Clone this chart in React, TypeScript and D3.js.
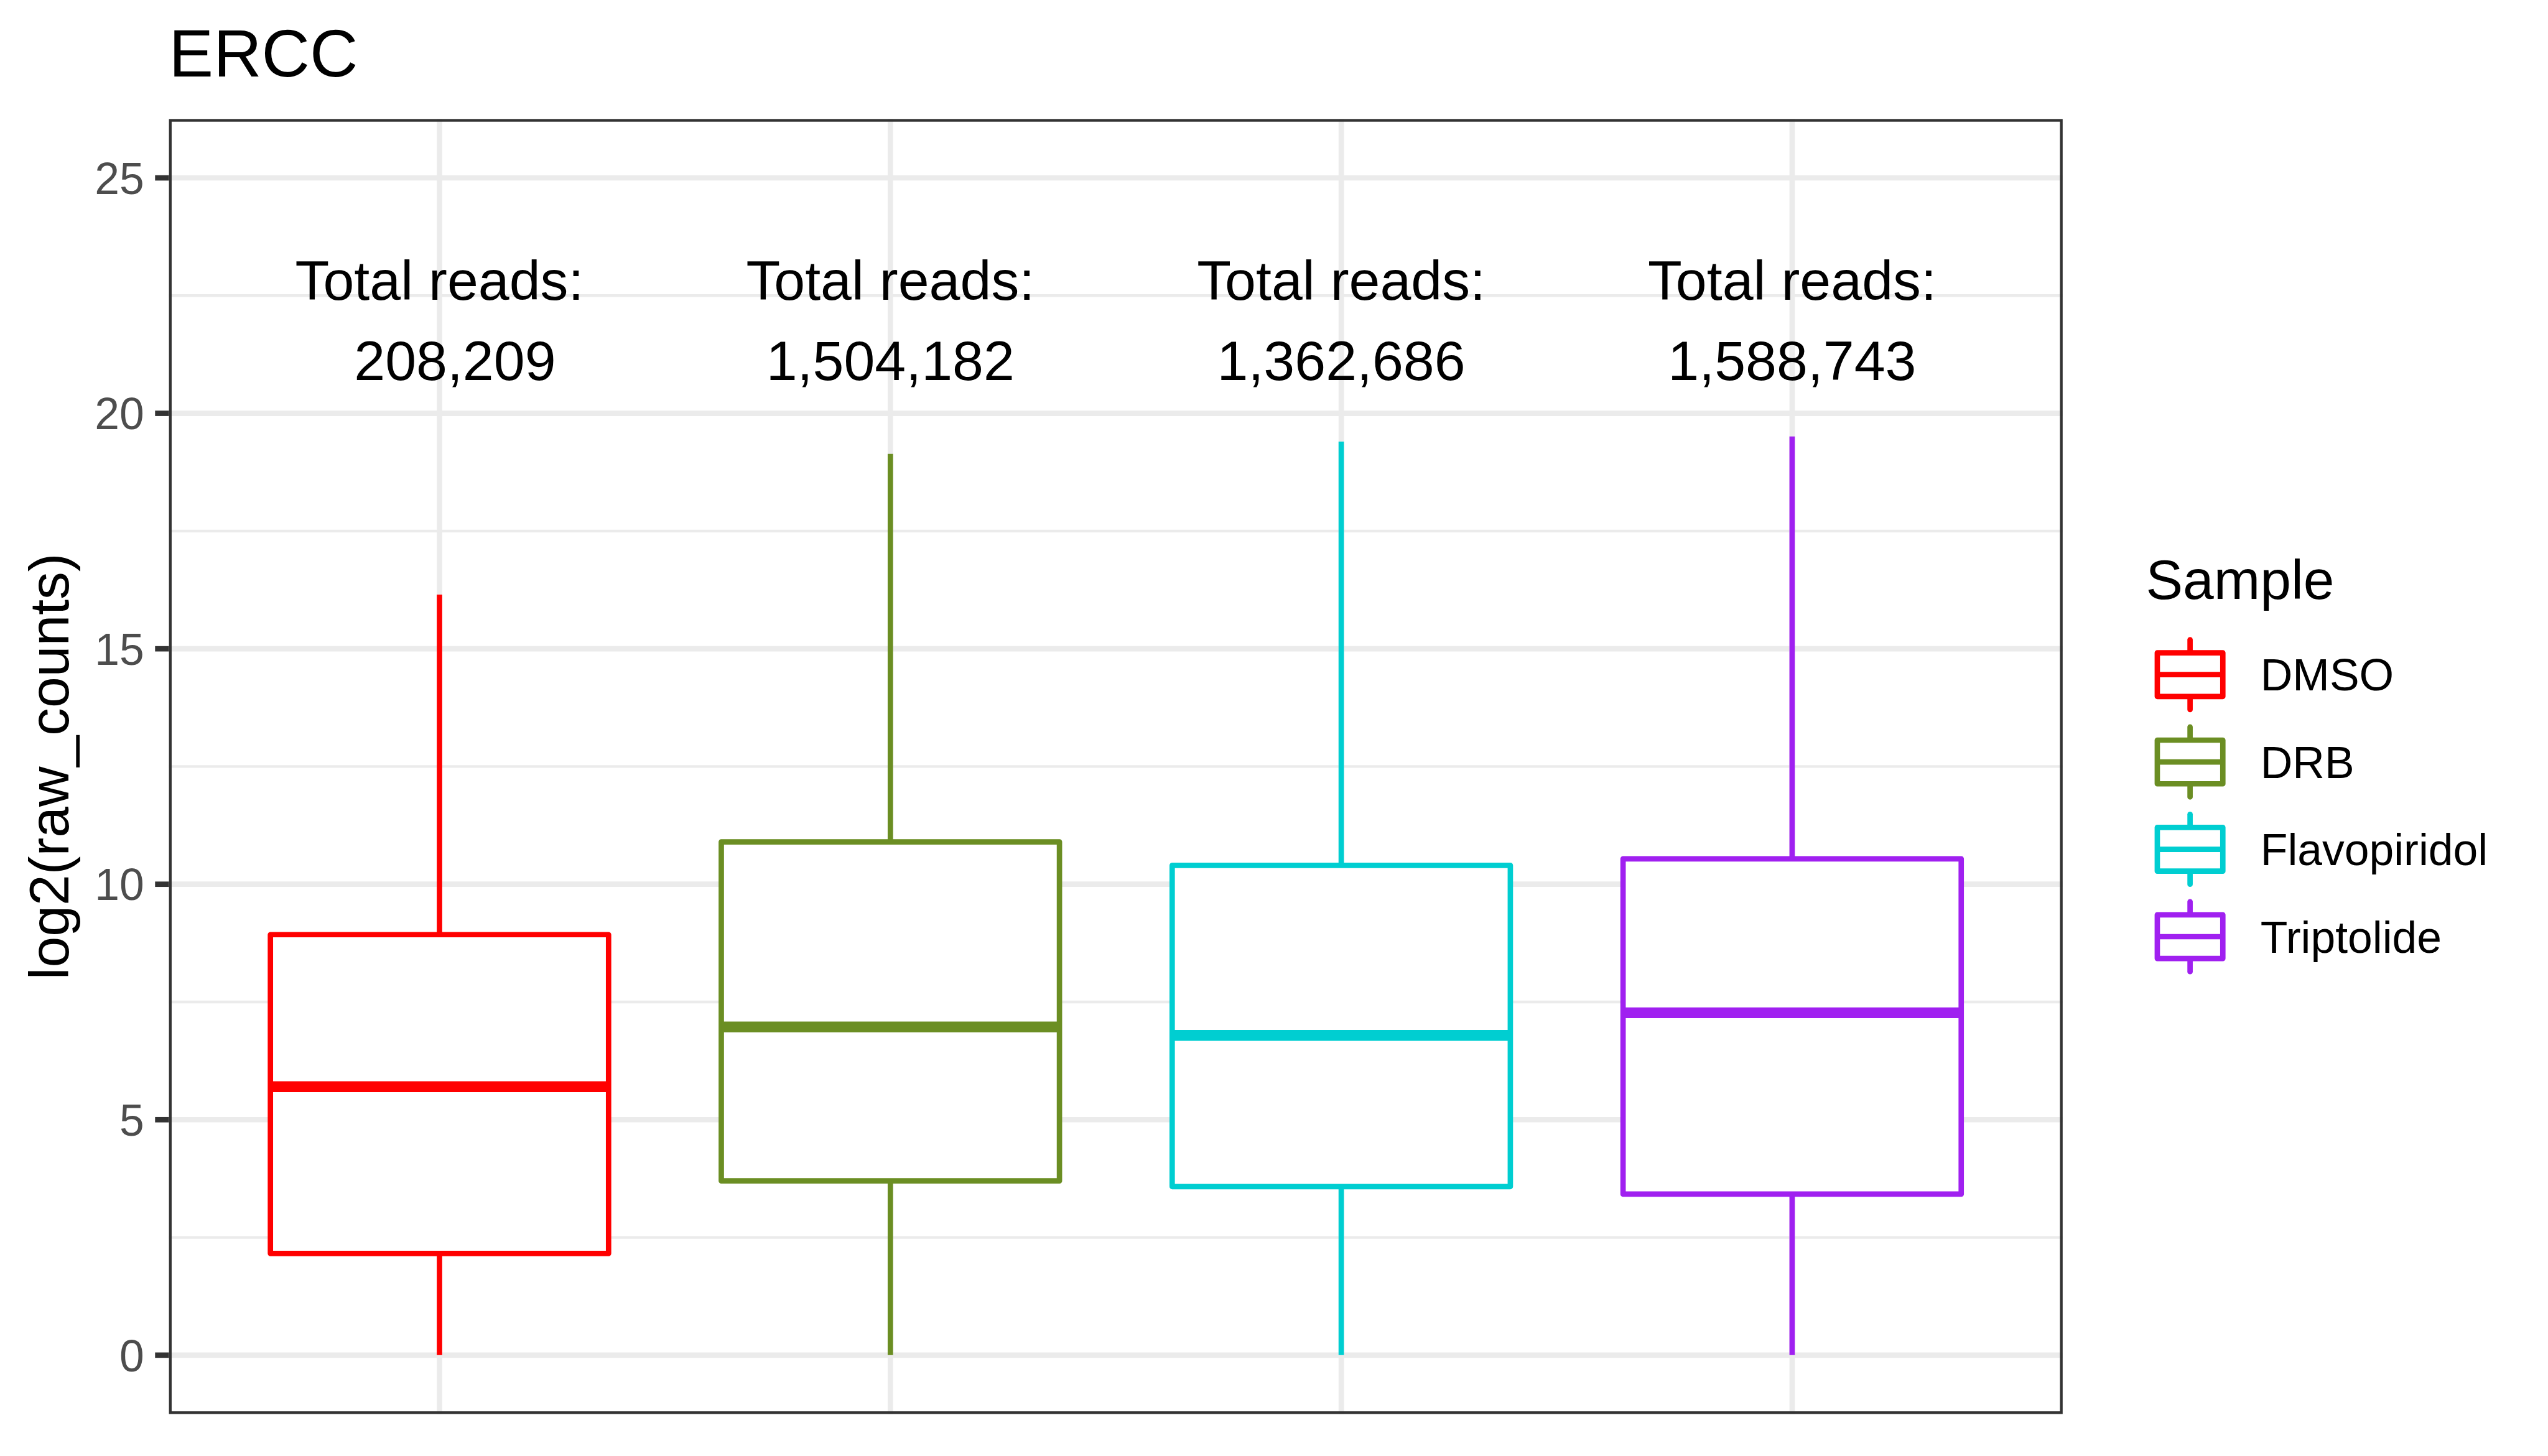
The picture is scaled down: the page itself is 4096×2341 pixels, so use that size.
import React from 'react';
import { scaleLinear, scalePoint, format, max } from 'd3';

// boxplot summary per sample (log2 raw counts)
const samples = ['DMSO', 'DRB', 'Flavopiridol', 'Triptolide'];
const sampleColors = ['#FF0000', '#6B8E23', '#00CED1', '#A020F0'];
const lowerWhisker = [0, 0, 0, 0];
const lowerHinge = [2.16, 3.7, 3.58, 3.42];
const medians = [5.7, 6.97, 6.79, 7.27];
const upperHinge = [8.93, 10.9, 10.4, 10.54];
const upperWhisker = [16.15, 19.14, 19.4, 19.51];
const totalReads = [208209, 1504182, 1362686, 1588743];
const yTicks = [0, 5, 10, 15, 20, 25];
const yMinorTicks = [2.5, 7.5, 12.5, 17.5, 22.5];
const readsLabelY = 21.56;

// reference pixel layout (scaled down by the viewBox)
const W = 4200;
const H = 2400;
const panel = { left: 278.5, right: 3400, top: 196, bottom: 2331 };
const lw = 8.9; // ggplot 0.5 mm line
const font = '"Liberation Sans", Arial, Helvetica, sans-serif';

export default function App() {
    const xScale = scalePoint<string>().domain(samples).range([panel.left, panel.right]).padding(0.6);
    const yScale = scaleLinear().domain([-1.25, 26.25]).range([panel.bottom, panel.top]);
    const boxW = xScale.step() * 0.75;
    const fmt = format(',');
    const readsText = totalReads.map((v) => fmt(v));
    // R's format() pads to a common width with leading spaces
    const padTo = max(readsText, (d) => d.length) || 0;
    const readsPadded = readsText.map((d) => d.padStart(padTo, ' '));
    const panelMid = (panel.top + panel.bottom) / 2;

    const keySize = 144;
    const keyLeft = 3538;
    const keyTop = 1040;

    return (
        <svg
            width={4096}
            height={2341}
            viewBox={`0 0 ${W} ${H}`}
            style={{ position: 'fixed', left: 0, top: 0, background: '#fff' }}
            fontFamily={font}
        >
            <rect x={0} y={0} width={W} height={H} fill="#fff" />

            {/* grid */}
            <g className="grid">
                {yMinorTicks.map((t) => (
                    <line key={'m' + t} x1={panel.left} x2={panel.right} y1={yScale(t)} y2={yScale(t)} stroke="#EBEBEB" strokeWidth={lw / 2} />
                ))}
                {yTicks.map((t) => (
                    <line key={'M' + t} x1={panel.left} x2={panel.right} y1={yScale(t)} y2={yScale(t)} stroke="#EBEBEB" strokeWidth={lw} />
                ))}
                {samples.map((s) => (
                    <line key={'v' + s} x1={xScale(s)} x2={xScale(s)} y1={panel.top} y2={panel.bottom} stroke="#EBEBEB" strokeWidth={lw} />
                ))}
            </g>

            {/* boxes */}
            <g className="boxes">
                {samples.map((s, i) => {
                    const cx = xScale(s) as number;
                    const c = sampleColors[i];
                    return (
                        <g key={s}>
                            <line x1={cx} x2={cx} y1={yScale(upperWhisker[i])} y2={yScale(upperHinge[i])} stroke={c} strokeWidth={lw} />
                            <line x1={cx} x2={cx} y1={yScale(lowerHinge[i])} y2={yScale(lowerWhisker[i])} stroke={c} strokeWidth={lw} />
                            <rect
                                x={cx - boxW / 2}
                                y={yScale(upperHinge[i])}
                                width={boxW}
                                height={yScale(lowerHinge[i]) - yScale(upperHinge[i])}
                                fill="#fff"
                                stroke={c}
                                strokeWidth={lw}
                                strokeLinejoin="round"
                            />
                            <line x1={cx - boxW / 2} x2={cx + boxW / 2} y1={yScale(medians[i])} y2={yScale(medians[i])} stroke={c} strokeWidth={lw * 2} />
                        </g>
                    );
                })}
            </g>

            {/* total reads annotations */}
            <g className="reads" fontSize={92} fill="#000" textAnchor="middle" style={{ whiteSpace: 'pre' }}>
                {samples.map((s, i) => (
                    <text key={s} x={xScale(s)} y={yScale(readsLabelY)} xmlSpace="preserve">
                        <tspan x={xScale(s)} dy={-66}>Total reads:</tspan>
                        <tspan x={xScale(s)} dy={132}>{readsPadded[i]}</tspan>
                    </text>
                ))}
            </g>

            {/* panel border */}
            <rect
                x={panel.left + lw / 4}
                y={panel.top + lw / 4}
                width={panel.right - panel.left - lw / 2}
                height={panel.bottom - panel.top - lw / 2}
                fill="none"
                stroke="#333333"
                strokeWidth={lw / 2}
            />

            {/* y axis */}
            <g className="y-axis">
                {yTicks.map((t) => (
                    <g key={t}>
                        <line x1={panel.left - 22.9} x2={panel.left} y1={yScale(t)} y2={yScale(t)} stroke="#333333" strokeWidth={lw} />
                        <text x={panel.left - 22.9 - 18} y={yScale(t)} dy="0.36em" textAnchor="end" fontSize={73.3} fill="#4D4D4D">
                            {t}
                        </text>
                    </g>
                ))}
                <text transform={`translate(113,${panelMid}) rotate(-90)`} textAnchor="middle" fontSize={91.7} fill="#000">
                    log2(raw_counts)
                </text>
            </g>

            {/* title */}
            <text x={panel.left} y={126} fontSize={110} fill="#000">
                ERCC
            </text>

            {/* legend */}
            <g className="legend">
                <text x={keyLeft - 1} y={987} fontSize={91.7} fill="#000">
                    Sample
                </text>
                {samples.map((s, i) => {
                    const cy = keyTop + keySize / 2 + i * keySize;
                    const cx = keyLeft + keySize / 2;
                    const c = sampleColors[i];
                    return (
                        <g key={s}>
                            <line x1={cx} x2={cx} y1={cy - keySize * 0.4} y2={cy + keySize * 0.4} stroke={c} strokeWidth={lw} strokeLinecap="round" />
                            <rect
                                x={cx - keySize * 0.375}
                                y={cy - keySize * 0.25}
                                width={keySize * 0.75}
                                height={keySize * 0.5}
                                fill="#fff"
                                stroke={c}
                                strokeWidth={lw}
                                strokeLinejoin="round"
                            />
                            <line x1={cx - keySize * 0.375} x2={cx + keySize * 0.375} y1={cy} y2={cy} stroke={c} strokeWidth={lw} />
                            <text x={keyLeft + keySize + 44} y={cy} dy="0.36em" fontSize={73.3} fill="#000">
                                {s}
                            </text>
                        </g>
                    );
                })}
            </g>
        </svg>
    );
}
